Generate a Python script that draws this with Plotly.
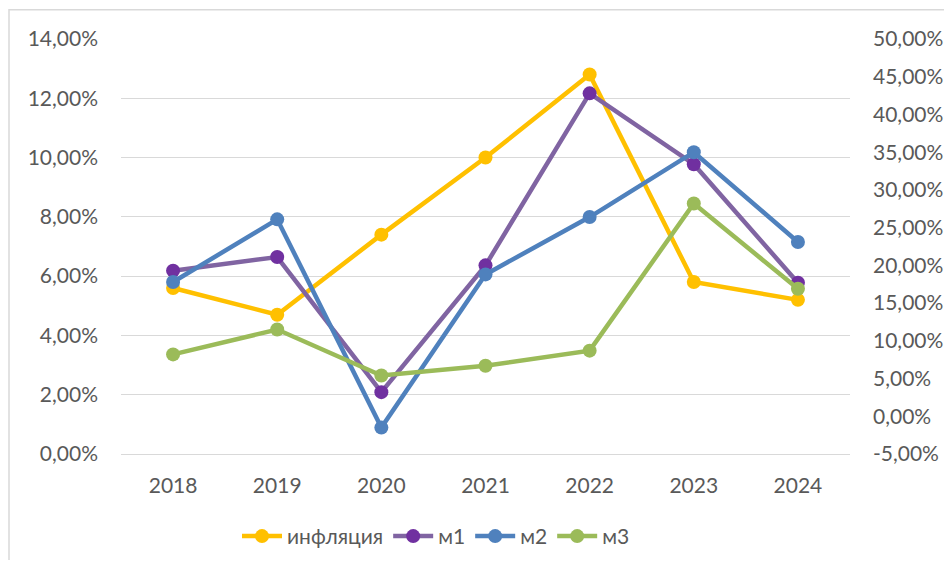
import plotly.graph_objects as go

years = ["2018", "2019", "2020", "2021", "2022", "2023", "2024"]
inflation = [5.6, 4.7, 7.4, 10.0, 12.8, 5.8, 5.2]      # left axis, %
m1 = [19.3, 21.1, 3.2, 20.0, 42.8, 33.4, 17.7]          # right axis, %
m2 = [17.8, 26.1, -1.5, 18.8, 26.4, 35.0, 23.1]         # right axis, %
m3 = [8.2, 11.5, 5.4, 6.7, 8.7, 28.2, 16.9]             # right axis, %

left_ticks = [0, 2, 4, 6, 8, 10, 12, 14]
right_ticks = [-5, 0, 5, 10, 15, 20, 25, 30, 35, 40, 45, 50]


def pct_label(v):
    return f"{v:.2f}".replace(".", ",") + "%"


FONT = "Lato"
TXT = "#595959"
GRID = "#D9D9D9"

fig = go.Figure()


def add(name, y, line_color, marker_color, axis):
    fig.add_trace(go.Scatter(
        x=years, y=y, name=name, mode="lines+markers", yaxis=axis,
        line=dict(color=line_color, width=4.5),
        marker=dict(color=marker_color, size=14, line=dict(width=0)),
    ))


add("инфляция", inflation, "#FFC000", "#FFC000", "y")
add("м1", m1, "#8064A2", "#7030A0", "y2")
add("м2", m2, "#4F81BD", "#4F81BD", "y2")
add("м3", m3, "#9BBB59", "#9BBB59", "y2")

# page has an 8px body margin; figure coords = page coords - 8
OFF = 8
W, H = 936, 552
L, T = 121 - OFF, 39.3 - OFF
PR, PB = 850 - OFF, 454.5 - OFF
R, B = W - PR, H - PB
pw, ph = PR - L, PB - T


def px_x(X):
    return (X - OFF - L) / pw


def px_y(Y):
    return (PB - (Y - OFF)) / ph


fig.update_layout(
    width=W, height=H,
    margin=dict(l=L, r=R, t=T, b=B, pad=0, autoexpand=False),
    paper_bgcolor="white", plot_bgcolor="white",
    font=dict(family=FONT, size=21, color=TXT),
    showlegend=True,
    legend=dict(orientation="h", x=px_x(436), y=px_y(537),
                xanchor="center", yanchor="middle",
                font=dict(family=FONT, size=21, color=TXT),
                itemwidth=40, tracegroupgap=0, bgcolor="rgba(0,0,0,0)"),
    xaxis=dict(type="category", range=[-0.5, 6.5], showgrid=False,
               showline=False, zeroline=False, ticks="", automargin=False,
               ticklabelstandoff=17,
               tickfont=dict(family=FONT, size=21, color=TXT)),
    yaxis=dict(range=[0, 14], tickvals=left_ticks,
               ticktext=[pct_label(v) for v in left_ticks],
               showgrid=True, gridcolor=GRID, gridwidth=1.2,
               zeroline=True, zerolinecolor=GRID, zerolinewidth=1.2,
               showline=False, ticks="", ticklabelstandoff=22,
               automargin=False,
               tickfont=dict(family=FONT, size=21, color=TXT)),
    yaxis2=dict(range=[-5, 50], tickvals=right_ticks,
                ticktext=[pct_label(v) for v in right_ticks],
                overlaying="y", side="right", showgrid=False,
                zeroline=False, showline=False, ticks="",
                ticklabelstandoff=22, automargin=False,
                tickfont=dict(family=FONT, size=21, color=TXT)),
    shapes=[dict(type="rect", xref="paper", yref="paper",
                 x0=px_x(9), x1=px_x(990), y0=px_y(620), y1=px_y(10),
                 line=dict(color=GRID, width=1.5), fillcolor="rgba(0,0,0,0)",
                 layer="below")],
)

fig.write_html("out.html")
